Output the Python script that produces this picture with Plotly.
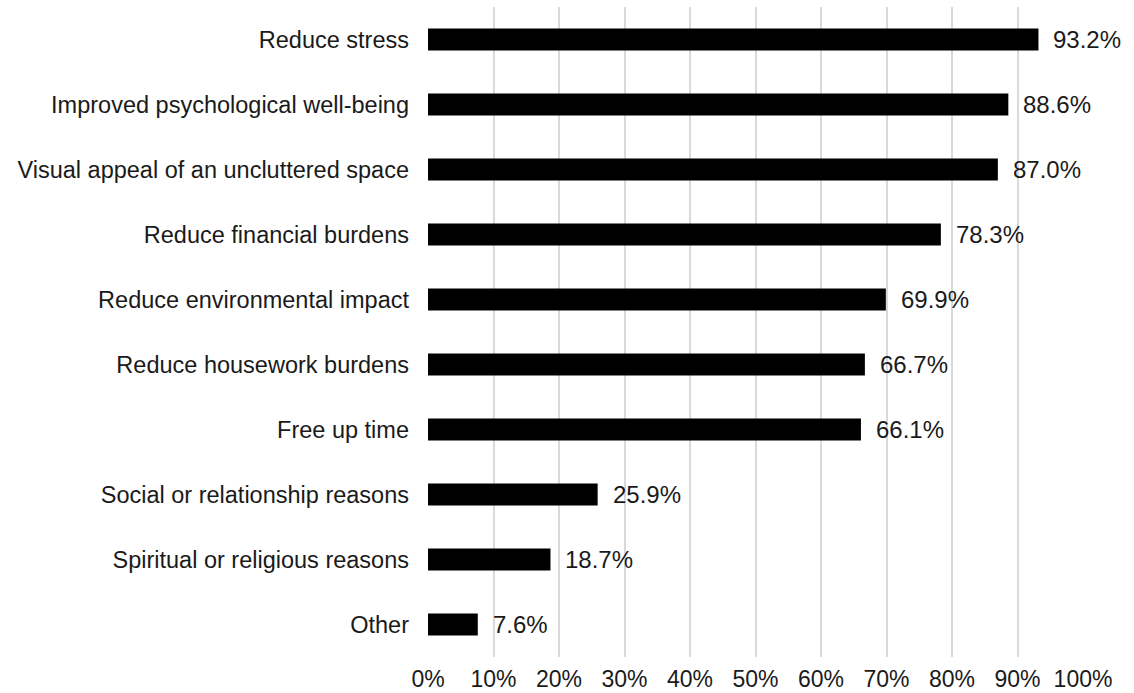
import plotly.graph_objects as go

# Reasons for decluttering, share of respondents (%)
reasons = [
    "Reduce stress",
    "Improved psychological well-being",
    "Visual appeal of an uncluttered space",
    "Reduce financial burdens",
    "Reduce environmental impact",
    "Reduce housework burdens",
    "Free up time",
    "Social or relationship reasons",
    "Spiritual or religious reasons",
    "Other",
]
shares = [93.2, 88.6, 87.0, 78.3, 69.9, 66.7, 66.1, 25.9, 18.7, 7.6]
tick_vals = [0, 10, 20, 30, 40, 50, 60, 70, 80, 90, 100]
tick_text = [f"{v}%" for v in tick_vals]

FONT = "Liberation Sans, Arial, Helvetica, sans-serif"
INK = "#1a1a1a"

fig = go.Figure(
    go.Bar(
        x=shares,
        y=reasons,
        orientation="h",
        marker=dict(color="#000000", line=dict(width=0)),
        width=0.34,
        hoverinfo="skip",
    )
)

# value labels to the right of each bar
for r, v in zip(reasons, shares):
    fig.add_annotation(
        x=v, y=r, text=f"{v:.1f}%", showarrow=False,
        xanchor="left", yanchor="middle", xshift=13,
        font=dict(family=FONT, size=24, color=INK),
    )

fig.update_layout(
    width=1134, height=693,
    margin=dict(l=428, r=51, t=7, b=36),
    plot_bgcolor="white", paper_bgcolor="white",
    showlegend=False,
    font=dict(family=FONT, size=23.5, color=INK),
    xaxis=dict(
        range=[0, 100],
        tickvals=tick_vals, ticktext=tick_text,
        tickfont=dict(size=23),
        showgrid=True, gridcolor="#d9d9d9", gridwidth=2,
        zeroline=False, showline=False,
        ticks="", ticklen=0, ticklabelstandoff=6,
        automargin=False,
        fixedrange=True,
    ),
    yaxis=dict(
        categoryorder="array", categoryarray=reasons[::-1],
        showgrid=False, zeroline=False, showline=False,
        ticks="", ticklabelstandoff=18,
        automargin=False,
        fixedrange=True,
    ),
)

fig.write_html("out.html")
